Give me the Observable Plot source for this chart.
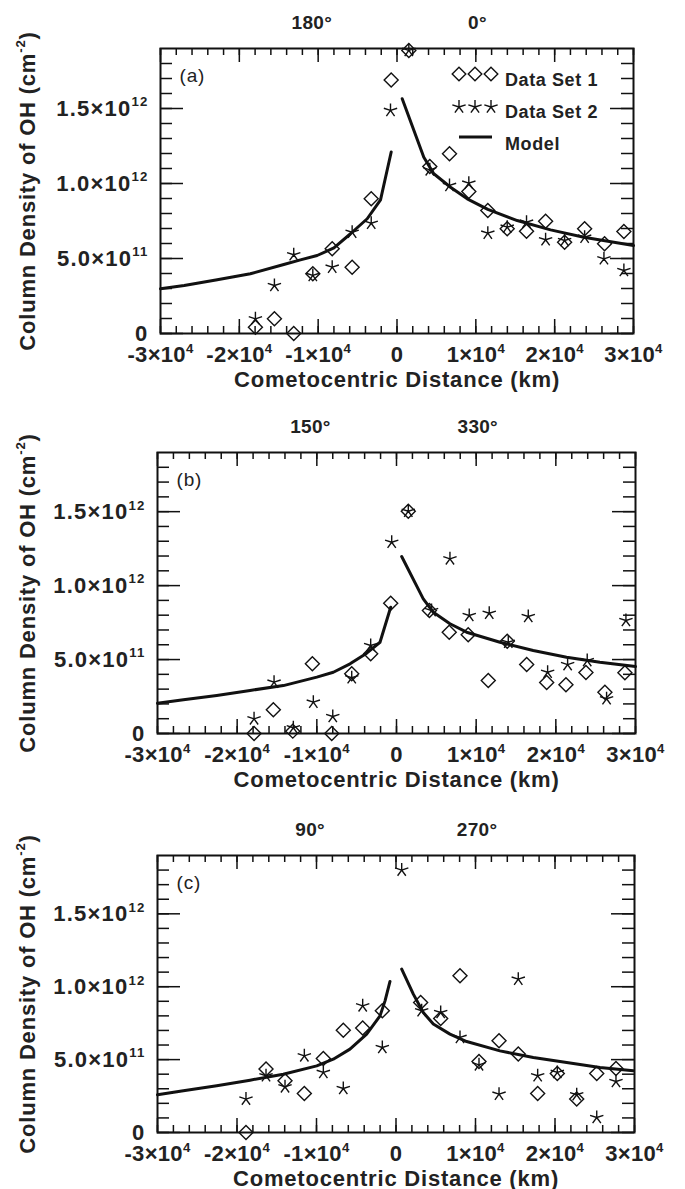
<!DOCTYPE html>
<html><head><meta charset="utf-8">
<script src="https://cdn.jsdelivr.net/npm/d3@7"></script>
<script src="https://cdn.jsdelivr.net/npm/@observablehq/plot@0.6"></script>
<style>
body{margin:0;background:#fff;}
#wrap{position:relative;width:685px;}
#wrap svg{display:block;}
svg text{font-family:"Liberation Sans",Arial,Helvetica,sans-serif;}
g[aria-label="y-axis tick label"] text{letter-spacing:1.2px;}
g[aria-label="x-axis tick label"] text{letter-spacing:0.3px;}
g[aria-label="text"] text{letter-spacing:0.8px;}
</style></head><body><div id="wrap"></div>
<script>
// ---------- axis/tick labels ----------
const xTickValues = [-30000, -20000, -10000, 0, 10000, 20000, 30000];
const xTickLabels = ["-3×10^{4}", "-2×10^{4}", "-1×10^{4}", "0", "1×10^{4}", "2×10^{4}", "3×10^{4}"];
const yTickValues = [0, 5e11, 1e12, 1.5e12];
const yTickLabels = ["0", "5.0×10^{11}", "1.0×10^{12}", "1.5×10^{12}"];
const angleX = [-10800, 10200];
const anglesA = ["180°", "0°"];
const anglesB = ["150°", "330°"];
const anglesC = ["90°", "270°"];
const xTitle = "Cometocentric Distance (km)";
const yTitle = "Column Density of OH (cm^{-2})";
const legendLabels = ["Data Set 1", "Data Set 2", "Model"];

// ---------- panel (a) ----------
const a_set1_x = [-17960,-15550,-13100,-10680,-8220,-5690,-3270,-740,1500, 4160,6660,9110,11520,13980,16430,18850,21260,23800,26330,28780];
const a_set1_y = [4.2e10,9.8e10,0,3.98e11,5.65e11,4.42e11,8.98e11,1.69e12,1.887e12, 1.113e12,1.198e12,9.47e11,8.2e11,6.98e11,6.82e11,7.49e11,6.09e11,6.98e11,5.98e11,6.8e11];
const a_set2_x = [-17960,-15550,-13100,-10680,-8220,-5690,-3270,-825,1500, 4160,6660,9110,11520,13980,16430,18850,21260,23800,26250,28780];
const a_set2_y = [9.8e10,3.2e11,5.25e11,3.87e11,4.42e11,6.75e11,7.35e11,1.487e12,1.887e12, 1.091e12,9.87e11,1.002e12,6.69e11,7.09e11,7.42e11,6.25e11,6.2e11,6.42e11,4.98e11,4.2e11];
const a_modelL_x = [-30000,-27000,-22800,-18600,-14360,-12250,-10130,-8000,-5900,-3780,-2090,-736];
const a_modelL_y = [2.98e11,3.2e11,3.58e11,3.98e11,4.6e11,4.91e11,5.2e11,5.71e11,6.65e11,7.65e11,8.91e11,1.21e12];
const a_modelR_x = [660,3400,4670,6790,8910,11520,15250,19480,23700,30000];
const a_modelR_y = [1.565e12,1.175e12,1.065e12,9.75e11,8.98e11,8.27e11,7.53e11,6.91e11,6.42e11,5.87e11];

// ---------- panel (b) ----------
const b_set1_x = [-17880,-15460,-13020,-10560,-8130,-5620,-3240,-728,1480, 4130,6620,9000,11520,13900,16340,18850,21270,23780,26160,28670];
const b_set1_y = [0,1.6e11,1.6e10,4.71e11,0,4.04e11,5.39e11,8.81e11,1.503e12, 8.31e11,6.85e11,6.67e11,3.58e11,6.24e11,4.66e11,3.45e11,3.29e11,4.12e11,2.79e11,4.1e11];
const b_set2_x = [-17880,-15370,-12950,-10440,-8000,-5620,-3240,-602,1480, 4400,6710,9130,11640,14030,16540,18970,21480,23940,26370,28800];
const b_set2_y = [9.9e10,3.47e11,3.9e10,2.12e11,1.15e11,3.77e11,5.95e11,1.293e12,1.503e12, 8.31e11,1.181e12,7.98e11,8.13e11,6.17e11,7.91e11,4.14e11,4.66e11,4.93e11,2.35e11,7.64e11];
const b_modelL_x = [-30000,-26750,-22560,-18380,-14200,-10000,-7930,-5830,-3740,-2070,-728];
const b_modelL_y = [2.05e11,2.28e11,2.57e11,2.91e11,3.24e11,3.81e11,4.14e11,4.71e11,5.43e11,6.17e11,8.54e11];
const b_modelR_x = [650,3360,4620,6710,8800,12990,17160,21350,25530,30000];
const b_modelR_y = [1.197e12,9.1e11,8.2e11,7.42e11,6.85e11,6.17e11,5.61e11,5.16e11,4.82e11,4.53e11];

// ---------- panel (c) ----------
const c_set1_x = [-18870,-16350,-13960,-11530,-9140,-6630,-4190,-1720, 3100,5620,8050,10440,12960,15380,17820,20290,22730,25250,27670];
const c_set1_y = [0,4.35e11,3.55e11,2.68e11,5.08e11,7.02e11,7.16e11,8.35e11, 8.92e11,7.82e11,1.075e12,4.87e11,6.29e11,5.38e11,2.68e11,4.05e11,2.29e11,4.05e11,4.39e11];
const c_set2_x = [-18870,-16350,-13960,-11530,-9140,-6630,-4190,-1720,717, 3230,5620,8050,10440,12960,15380,17820,20290,22730,25250,27670];
const c_set2_y = [2.29e11,3.89e11,3.13e11,5.26e11,4.12e11,3.02e11,8.69e11,5.83e11,1.8e12, 8.35e11,8.23e11,6.52e11,4.64e11,2.63e11,1.052e12,3.89e11,4.12e11,2.59e11,1.03e11,3.5e11];
const c_modelL_x = [-30000,-26750,-22550,-18360,-14180,-9970,-7890,-5790,-3690,-2010,-1380,-755];
const c_modelL_y = [2.59e11,2.86e11,3.2e11,3.59e11,4.0e11,4.57e11,5.03e11,5.72e11,6.75e11,8.0e11,9.03e11,1.036e12];
const c_modelR_x = [717,2180,3430,4690,6790,8890,13080,17270,21470,25660,29850];
const c_modelR_y = [1.121e12,9.49e11,8.23e11,7.44e11,6.75e11,6.24e11,5.6e11,5.14e11,4.8e11,4.46e11,4.23e11];

// ---------- drawing ----------
const ink = "#111";
const txt = "#222";
const diamondSym = {draw(ctx, size){ const r = Math.sqrt(size/Math.PI); ctx.moveTo(0,-r); ctx.lineTo(r,0); ctx.lineTo(0,r); ctx.lineTo(-r,0); ctx.closePath(); }};
const starSym = {draw(ctx, size){ const r = Math.sqrt(size/Math.PI); for (let k=0;k<5;k++){ const a = -Math.PI/2 + k*2*Math.PI/5; ctx.moveTo(0,0); ctx.lineTo(r*Math.cos(a), r*Math.sin(a)); } }};

const zip = (xs, ys) => xs.map((x,i)=>({x, y: ys[i]}));
const xLabelMap = new Map(xTickValues.map((v,i)=>[v, xTickLabels[i]]));
const yLabelMap = new Map(yTickValues.map((v,i)=>[v, yTickLabels[i]]));
const xMinor = d3.range(-30000, 30001, 2000);
const yMinor = d3.range(0, 19).map(i => i*1e11);

function panel(o){
  const W = 685, H = o.mTop + o.plotH + o.mBottom;
  const plotW = W - o.mLeft - o.mRight;
  const angMap = new Map(angleX.map((v,i)=>[v, o.angles[i]]));
  const tk = {stroke: ink, strokeWidth: 1.5};
  return Plot.plot({
    width: W, height: H,
    marginTop: o.mTop, marginBottom: o.mBottom, marginLeft: o.mLeft, marginRight: o.mRight,
    x: {domain: [-30000, 30000]},
    y: {domain: [0, 1.9e12]},
    style: {background: "white", color: txt, fontFamily: "Liberation Sans, Arial, sans-serif", overflow: "visible"},
    marks: [
      Plot.tickX(xMinor, {x: d=>d, insetBottom: o.plotH-7, ...tk}),
      Plot.tickX(xMinor, {x: d=>d, insetTop: o.plotH-7, ...tk}),
      Plot.tickX(xTickValues, {x: d=>d, insetBottom: o.plotH-14, ...tk}),
      Plot.tickX(xTickValues, {x: d=>d, insetTop: o.plotH-14, ...tk}),
      Plot.tickY(yMinor, {y: d=>d, insetRight: plotW-12, ...tk}),
      Plot.tickY(yMinor, {y: d=>d, insetLeft: plotW-12, ...tk}),
      Plot.tickY(yTickValues, {y: d=>d, insetRight: plotW-23, ...tk}),
      Plot.tickY(yTickValues, {y: d=>d, insetLeft: plotW-23, ...tk}),
      Plot.frame({stroke: ink, strokeWidth: 2}),
      Plot.axisX({anchor: "bottom", ticks: xTickValues, tickSize: 0, tickPadding: 13, tickFormat: d=>xLabelMap.get(d), fontSize: 22, fontWeight: "bold", fill: txt, label: null}),
      Plot.axisX({anchor: "top", ticks: angleX, tickSize: 0, tickPadding: 20, tickFormat: d=>angMap.get(d), fontSize: 19, fontWeight: "bold", fill: txt, label: null}),
      Plot.axisY({anchor: "left", ticks: yTickValues, tickSize: 0, tickPadding: 12, tickFormat: d=>yLabelMap.get(d), fontSize: 22, fontWeight: "bold", fill: txt, label: null}),
      Plot.line(zip(o.mLx, o.mLy), {x: "x", y: "y", stroke: ink, strokeWidth: 3}),
      Plot.line(zip(o.mRx, o.mRy), {x: "x", y: "y", stroke: ink, strokeWidth: 3}),
      Plot.dot(zip(o.s1x, o.s1y), {x: "x", y: "y", symbol: diamondSym, r: 7, stroke: ink, fill: "none", strokeWidth: 1.4}),
      Plot.dot(zip(o.s2x, o.s2y), {x: "x", y: "y", symbol: starSym, r: 7, stroke: ink, fill: "none", strokeWidth: 1.4}),
      Plot.text([o.tag], {frameAnchor: "top-left", dx: 19, dy: 27, lineAnchor: "middle", textAnchor: "start", fontSize: 19, fill: txt}),
      Plot.text([xTitle], {frameAnchor: "bottom", dy: 46, lineAnchor: "middle", textAnchor: "middle", fontSize: 22, fontWeight: "bold", fill: txt}),
      Plot.text([yTitle], {frameAnchor: "left", dx: 27 - o.mLeft, rotate: -90, lineAnchor: "middle", textAnchor: "middle", fontSize: 22, fontWeight: "bold", fill: txt})
    ]
  });
}

function supify(root){
  root.querySelectorAll("text").forEach(t => {
    const s = t.textContent;
    if (!s.includes("^{")) return;
    const fs = parseFloat(getComputedStyle(t).fontSize) || 22;
    const parts = s.split(/\^\{([^}]*)\}/);
    while (t.firstChild) t.removeChild(t.firstChild);
    const shift = fs*0.42;
    let raised = false;
    parts.forEach((p,i)=>{
      if (!p) return;
      const ts = document.createElementNS("http://www.w3.org/2000/svg","tspan");
      ts.textContent = p;
      if (i%2===1){ ts.setAttribute("font-size", (fs*0.6).toFixed(1)); ts.setAttribute("dy", (-shift).toFixed(1)); raised = true; }
      else if (raised){ ts.setAttribute("dy", shift.toFixed(1)); raised = false; }
      t.appendChild(ts);
    });
  });
}

const wrap = document.getElementById("wrap");
const panels = [
  {tag: "(a)", angles: anglesA, mTop: 48, plotH: 285, mBottom: 55, mLeft: 160, mRight: 52,
   s1x: a_set1_x, s1y: a_set1_y, s2x: a_set2_x, s2y: a_set2_y, mLx: a_modelL_x, mLy: a_modelL_y, mRx: a_modelR_x, mRy: a_modelR_y},
  {tag: "(b)", angles: anglesB, mTop: 64, plotH: 281, mBottom: 55, mLeft: 157, mRight: 50,
   s1x: b_set1_x, s1y: b_set1_y, s2x: b_set2_x, s2y: b_set2_y, mLx: b_modelL_x, mLy: b_modelL_y, mRx: b_modelR_x, mRy: b_modelR_y},
  {tag: "(c)", angles: anglesC, mTop: 67, plotH: 277, mBottom: 57, mLeft: 157, mRight: 51,
   s1x: c_set1_x, s1y: c_set1_y, s2x: c_set2_x, s2y: c_set2_y, mLx: c_modelL_x, mLy: c_modelL_y, mRx: c_modelR_x, mRy: c_modelR_y}
];
panels.forEach(p => { const svg = panel(p); wrap.appendChild(svg); supify(svg); });

// legend for panel (a)
const leg = d3.select(wrap).append("svg")
  .attr("width", 685).attr("height", 388)
  .style("position", "absolute").style("left", "0px").style("top", "0px").style("pointer-events", "none");
const symPath = (sym, r) => { const p = d3.path(); sym.draw(p, Math.PI*r*r); return p.toString(); };
const legX = [459, 475, 491];
legX.forEach(x => {
  leg.append("path").attr("d", symPath(diamondSym, 6.8)).attr("transform", `translate(${x},74)`).attr("fill","none").attr("stroke",ink).attr("stroke-width",1.4);
  leg.append("path").attr("d", symPath(starSym, 7)).attr("transform", `translate(${x},107)`).attr("fill","none").attr("stroke",ink).attr("stroke-width",1.4);
});
leg.append("line").attr("x1", 459).attr("x2", 492).attr("y1", 137).attr("y2", 137).attr("stroke", ink).attr("stroke-width", 3);
[86, 118, 150].forEach((y,i) => {
  leg.append("text").attr("x", 505).attr("y", y).text(legendLabels[i])
    .attr("font-size", 18).attr("font-weight", "bold").attr("fill", txt).style("letter-spacing", "0.6px");
});
</script></body></html>
